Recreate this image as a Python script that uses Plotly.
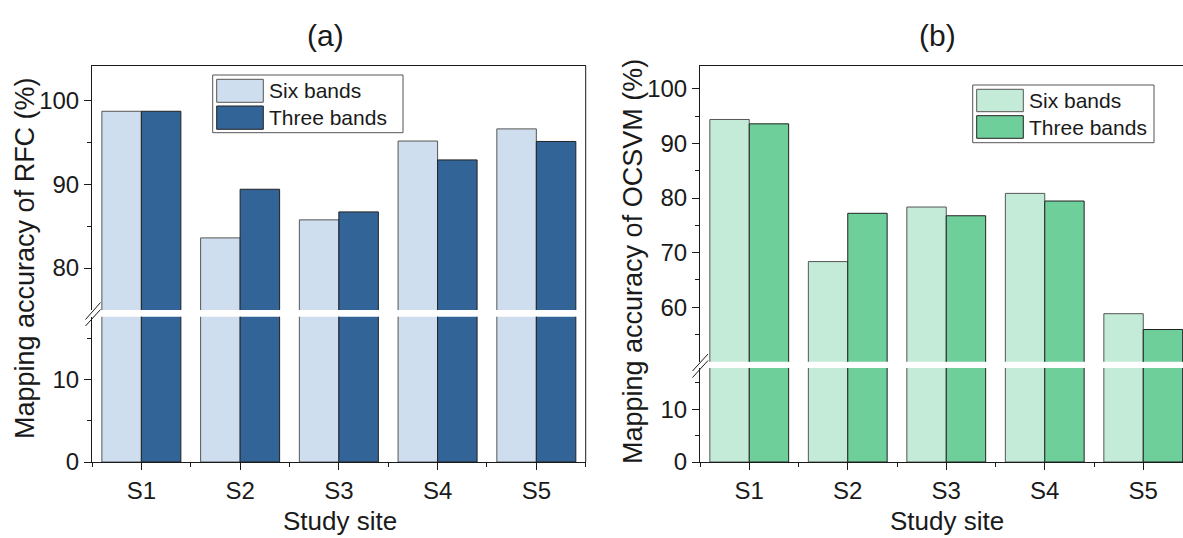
import plotly.graph_objects as go

# Study sites and mapping accuracies (%)
sites = ["S1", "S2", "S3", "S4", "S5"]
series_names = ["Six bands", "Three bands"]
rfc_six = [98.7, 83.6, 85.75, 95.15, 96.6]
rfc_three = [98.7, 89.4, 86.7, 92.9, 95.1]
ocsvm_six = [94.4, 68.35, 78.35, 80.85, 58.8]
ocsvm_three = [93.6, 77.2, 76.75, 79.45, 55.9]

rfc_upper_ticks = [80, 90, 100]
rfc_upper_minor = [85, 95]
ocsvm_upper_ticks = [60, 70, 80, 90, 100]
ocsvm_upper_minor = [55, 65, 75, 85, 95]
lower_ticks = [0, 10]
lower_minor = [5, 15]

W, H = 1183, 538
FONT = "Arial, Liberation Sans, sans-serif"
INK = "#1a1a1a"

rfc_colors = ["#CFDEEE", "#336497"]
ocsvm_colors = ["#C4EBD7", "#6ECF9B"]
edge_colors = ["#555555", "#222222"]


def px(x):
    return x / W


def py(y):
    return 1 - y / H


xs = list(range(len(sites)))

fig = go.Figure()

# (subplot x-axis, y-axis) pairs: lower and upper segment of each broken axis
panels = [
    (("x", "y"), ("x2", "y2"), [rfc_six, rfc_three], rfc_colors),
    (("x3", "y3"), ("x4", "y4"), [ocsvm_six, ocsvm_three], ocsvm_colors),
]
for lower, upper, data, colors in panels:
    for seg in (lower, upper):
        for i, vals in enumerate(data):
            fig.add_trace(go.Bar(
                x=xs, y=vals, name=series_names[i],
                xaxis=seg[0], yaxis=seg[1],
                offsetgroup=str(i),
                marker=dict(color=colors[i], line=dict(color=edge_colors[i], width=1)),
                showlegend=False, hoverinfo="x+y",
            ))

tickfont = dict(family=FONT, size=24, color=INK)
line_common = dict(showline=True, linecolor=INK, linewidth=1, showgrid=False,
                   zeroline=False, tickfont=tickfont, tickcolor=INK,
                   automargin=False)

x_minor = dict(tickmode="array", tickvals=[-0.5, 0.5, 1.5, 2.5, 3.5, 4.5],
               ticks="outside", ticklen=4, tickcolor=INK)

a_x = [px(92), px(585.7)]
b_x = [px(700), 1.0]
a_range = [-0.5, 4.5]
b_range = [-0.5, -0.5 + (W - 700) / 98.5]

top_axis = dict(showticklabels=False, ticks="", showline=True, linecolor=INK,
                linewidth=1, showgrid=False, zeroline=False, side="top",
                automargin=False)

fig.update_layout(
    width=W, height=H,
    margin=dict(l=0, r=0, t=0, b=0, autoexpand=False),
    paper_bgcolor="white", plot_bgcolor="white",
    barmode="group", bargap=0.2, bargroupgap=0,
    showlegend=False,
    font=dict(family=FONT, color=INK),
    # panel (a)
    xaxis=dict(domain=a_x, range=a_range, anchor="y", tickmode="array",
               tickvals=xs, ticktext=sites, ticks="outside", ticklen=7,
               minor=x_minor, **line_common),
    xaxis2=dict(domain=a_x, range=a_range, anchor="y2", matches="x", **top_axis),
    yaxis=dict(domain=[py(462), py(316.7)], range=[0, 17.7], anchor="x",
               tickmode="array", tickvals=lower_ticks, ticks="outside", ticklen=7,
               minor=dict(tickmode="array", tickvals=lower_minor, ticks="outside",
                          ticklen=4, tickcolor=INK),
               **line_common),
    yaxis2=dict(domain=[py(310), py(66)], range=[75, 104.1], anchor="x2",
                tickmode="array", tickvals=rfc_upper_ticks, ticks="outside", ticklen=7,
                minor=dict(tickmode="array", tickvals=rfc_upper_minor, ticks="outside",
                           ticklen=4, tickcolor=INK),
                **line_common),
    # panel (b)
    xaxis3=dict(domain=b_x, range=b_range, anchor="y3", tickmode="array",
                tickvals=xs, ticktext=sites, ticks="outside", ticklen=7,
                minor=x_minor, **line_common),
    xaxis4=dict(domain=b_x, range=b_range, anchor="y4", matches="x3", **top_axis),
    yaxis3=dict(domain=[py(462), py(368)], range=[0, 17.8], anchor="x3",
                tickmode="array", tickvals=lower_ticks, ticks="outside", ticklen=7,
                minor=dict(tickmode="array", tickvals=lower_minor, ticks="outside",
                           ticklen=4, tickcolor=INK),
                **line_common),
    yaxis4=dict(domain=[py(361.7), py(66)], range=[50, 104.2], anchor="x4",
                tickmode="array", tickvals=ocsvm_upper_ticks, ticks="outside", ticklen=7,
                minor=dict(tickmode="array", tickvals=ocsvm_upper_minor, ticks="outside",
                           ticklen=4, tickcolor=INK),
                **line_common),
)

shapes = []


def seg(x0, y0, x1, y1, color=INK, width=1):
    shapes.append(dict(type="line", xref="paper", yref="paper",
                       x0=px(x0), y0=py(y0), x1=px(x1), y1=py(y1),
                       line=dict(color=color, width=width)))


# right border of panel (a), continuous through the break
seg(585.7, 66, 585.7, 462)

# axis-break marks
seg(85.5, 319.5, 100.5, 302.5)
seg(85.5, 326.0, 100.5, 309.5)
seg(692.5, 371.0, 708.0, 354.0)
seg(692.5, 377.5, 708.0, 360.5)

annotations = []


def legend_box(x0, y0, x1, y1, colors, sw_x0, sw_x1, rows, text_x):
    shapes.append(dict(type="rect", xref="paper", yref="paper",
                       x0=px(x0), y0=py(y1), x1=px(x1), y1=py(y0),
                       line=dict(color="#555555", width=1), fillcolor="white"))
    for i, (ra, rb) in enumerate(rows):
        shapes.append(dict(type="rect", xref="paper", yref="paper",
                           x0=px(sw_x0), y0=py(rb), x1=px(sw_x1), y1=py(ra),
                           line=dict(color=edge_colors[i], width=1),
                           fillcolor=colors[i]))
        annotations.append(dict(text=series_names[i], xref="paper", yref="paper",
                                x=px(text_x), y=py((ra + rb) / 2),
                                xanchor="left", yanchor="middle", showarrow=False,
                                font=dict(family=FONT, size=21, color=INK)))


legend_box(212.7, 75, 403, 132.7, rfc_colors, 216.7, 263.3,
           [(79.3, 102.3), (106, 129.3)], 267)
legend_box(972.7, 85, 1154, 142.7, ocsvm_colors, 976.7, 1023.3,
           [(89.3, 111.7), (115.7, 138.3)], 1027)


def text(s, x, y, size, angle=0):
    annotations.append(dict(text=s, xref="paper", yref="paper", x=px(x), y=py(y),
                            xanchor="center", yanchor="middle", showarrow=False,
                            textangle=angle,
                            font=dict(family=FONT, size=size, color=INK)))


text("(a)", 325.5, 35, 30)
text("(b)", 937, 35, 30)
text("Study site", 340, 521, 26)
text("Study site", 947, 521, 26)
text("Mapping accuracy of RFC (%)", 25, 258, 27, -90)
text("Mapping accuracy of OCSVM (%)", 633, 262, 27, -90)

fig.update_layout(shapes=shapes, annotations=annotations)

fig.write_html("out.html")
